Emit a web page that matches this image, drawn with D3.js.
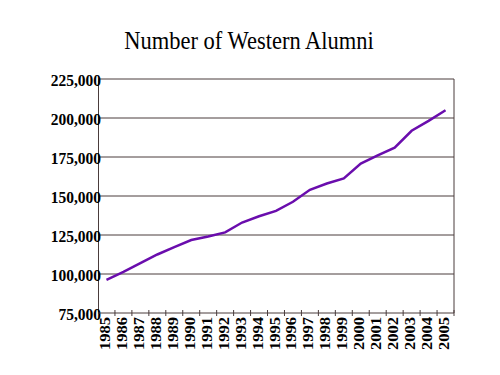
<!DOCTYPE html>
<html>
<head>
<script src="https://d3js.org/d3.v7.min.js"></script>
<style>
  html, body { margin: 0; padding: 0; background: #fff; }
  svg { display: block; }
  svg text { font-family: "Liberation Serif", "Times New Roman", Times, serif; }
</style>
</head>
<body>
<div id="chart"></div>
<script>
// alumni counts by year
var years = ["1985","1986","1987","1988","1989","1990","1991","1992","1993","1994","1995",
             "1996","1997","1998","1999","2000","2001","2002","2003","2004","2005"];
var alumni = [96300, 101300, 107000, 112500, 117200, 121800, 124000, 126700, 133000, 137000, 140500,
              146300, 154000, 158000, 161300, 170800, 176000, 181000, 191800, 198200, 205000];
var yTicks = [75000, 100000, 125000, 150000, 175000, 200000, 225000];

var width = 500, height = 375;
var margin = {top: 79, right: 46, bottom: 62, left: 98};
var stretch = "scale(1,1.14)"; // the original text is a bit taller than it is wide

var svg = d3.select("#chart").append("svg")
    .attr("width", width)
    .attr("height", height);

svg.append("text")
    .attr("transform", "translate(249,49) " + stretch)
    .attr("text-anchor", "middle")
    .style("font-size", "22.5px")
    .text("Number of Western Alumni");

var x = d3.scaleBand().domain(years).range([margin.left, width - margin.right]);
var y = d3.scaleLinear().domain([75000, 225000]).range([height - margin.bottom, margin.top]);

// gridlines
svg.append("g").selectAll("line")
    .data(yTicks.slice(1))
    .enter().append("line")
    .attr("x1", margin.left).attr("x2", width - margin.right)
    .attr("y1", d => y(d)).attr("y2", d => y(d))
    .attr("stroke", "#4a3c3c")
    .attr("stroke-width", 1);

// right border
svg.append("line")
    .attr("x1", width - margin.right).attr("x2", width - margin.right)
    .attr("y1", margin.top).attr("y2", height - margin.bottom)
    .attr("stroke", "#4a3c3c");

// y axis
var yAxis = svg.append("g")
    .attr("transform", "translate(" + margin.left + ",0)")
    .call(d3.axisLeft(y).tickValues(yTicks).tickFormat(d3.format(",")).tickSize(0).tickPadding(-3));
yAxis.attr("font-family", null);
yAxis.select(".domain").attr("stroke", "#4a3c3c");
yAxis.selectAll("text")
    .attr("dy", "0.34em")
    .attr("transform", stretch)
    .style("font-size", "15.5px")
    .style("font-weight", "bold")
    .attr("fill", "#000");

// x axis with ticks between categories
var xAxis = svg.append("g")
    .attr("transform", "translate(0," + (height - margin.bottom) + ")");
xAxis.append("line")
    .attr("x1", margin.left).attr("x2", width - margin.right)
    .attr("stroke", "#4a3c3c");
xAxis.selectAll(".tk")
    .data(years)
    .enter().append("line")
    .attr("class", "tk")
    .attr("x1", d => x(d) + x.bandwidth()).attr("x2", d => x(d) + x.bandwidth())
    .attr("y1", -3).attr("y2", 3)
    .attr("stroke", "#4a3c3c");
xAxis.selectAll("text")
    .data(years)
    .enter().append("text")
    .attr("transform", d => "translate(" + (x(d) + x.bandwidth() / 2 + 3.5) + ",4) " + stretch + " rotate(-90)")
    .attr("text-anchor", "end")
    .style("font-size", "14.5px")
    .style("font-weight", "bold")
    .text(d => d);

// line
var line = d3.line()
    .x((d, i) => x(years[i]) + x.bandwidth() / 2)
    .y(d => y(d));

svg.append("path")
    .datum(alumni)
    .attr("d", line)
    .attr("fill", "none")
    .attr("stroke", "#6a0dad")
    .attr("stroke-width", 2.5);
</script>
</body>
</html>
